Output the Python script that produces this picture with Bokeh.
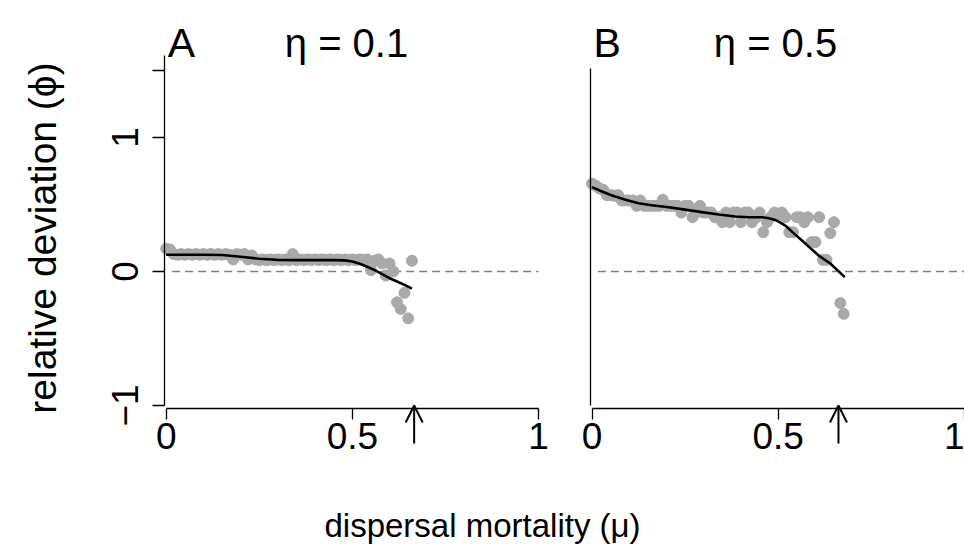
import math
from bokeh.plotting import figure
from bokeh.layouts import row, column
from bokeh.models import Range1d, FixedTicker, Label, Arrow, OpenHead
from bokeh.embed import file_html
from bokeh.resources import INLINE

# ---------------- data ----------------
a_mu = [0.00, 0.01, 0.02, 0.03, 0.04, 0.05, 0.06, 0.07, 0.08, 0.09,
        0.10, 0.11, 0.12, 0.13, 0.14, 0.15, 0.16, 0.17, 0.18, 0.19,
        0.20, 0.21, 0.22, 0.23, 0.24, 0.25, 0.26, 0.27, 0.28, 0.29,
        0.30, 0.31, 0.32, 0.33, 0.34, 0.35, 0.36, 0.37, 0.38, 0.39,
        0.40, 0.41, 0.42, 0.43, 0.44, 0.45, 0.46, 0.47, 0.48, 0.49,
        0.50, 0.51, 0.52, 0.53, 0.54, 0.55, 0.56, 0.57, 0.58, 0.59,
        0.60, 0.61, 0.62, 0.63, 0.64, 0.65, 0.66]
a_phi = [0.17, 0.165, 0.13, 0.125, 0.13, 0.125, 0.13, 0.125, 0.13, 0.125,
         0.13, 0.125, 0.13, 0.125, 0.13, 0.125, 0.13, 0.125, 0.09, 0.13,
         0.125, 0.13, 0.09, 0.12, 0.09, 0.085, 0.09, 0.085, 0.09, 0.085,
         0.09, 0.085, 0.09, 0.085, 0.13, 0.085, 0.09, 0.085, 0.09, 0.085,
         0.09, 0.085, 0.09, 0.085, 0.09, 0.085, 0.09, 0.085, 0.09, 0.085,
         0.09, 0.085, 0.09, 0.085, 0.09, 0.01, 0.08, 0.09, 0.06, -0.03,
         0.06, 0.0, -0.23, -0.28, -0.16, -0.35, 0.08]

a_fit_mu = [0.0, 0.05, 0.10, 0.15, 0.20, 0.25, 0.30, 0.35, 0.40, 0.45,
            0.48, 0.50, 0.52, 0.54, 0.56, 0.58, 0.60, 0.62, 0.64, 0.66]
a_fit_phi = [0.125, 0.125, 0.125, 0.123, 0.11, 0.095, 0.087, 0.085, 0.085, 0.085,
             0.083, 0.075, 0.058, 0.035, 0.01, -0.02, -0.05, -0.075, -0.10, -0.128]

b_mu = [0.00, 0.01, 0.02, 0.03, 0.04, 0.05, 0.06, 0.07, 0.08, 0.09,
        0.10, 0.11, 0.12, 0.13, 0.14, 0.15, 0.16, 0.17, 0.18, 0.19,
        0.20, 0.21, 0.22, 0.23, 0.24, 0.25, 0.26, 0.27, 0.28, 0.29,
        0.30, 0.31, 0.32, 0.33, 0.34, 0.35, 0.36, 0.37, 0.38, 0.39,
        0.40, 0.41, 0.42, 0.43, 0.44, 0.45, 0.46, 0.47, 0.48, 0.49,
        0.50, 0.51, 0.52, 0.53, 0.54, 0.55, 0.56, 0.57, 0.58, 0.59,
        0.60, 0.61, 0.62, 0.63, 0.64, 0.65, 0.667, 0.676]
b_phi = [0.655, 0.64, 0.62, 0.61, 0.57, 0.57, 0.565, 0.57, 0.53, 0.53,
         0.53, 0.53, 0.49, 0.53, 0.49, 0.49, 0.49, 0.49, 0.49, 0.535,
         0.49, 0.49, 0.49, 0.49, 0.44, 0.49, 0.49, 0.405, 0.44, 0.49,
         0.44, 0.44, 0.44, 0.405, 0.405, 0.368, 0.44, 0.368, 0.44, 0.44,
         0.368, 0.44, 0.44, 0.368, 0.40, 0.44, 0.293, 0.368, 0.405, 0.44,
         0.42, 0.44, 0.405, 0.293, 0.293, 0.405, 0.405, 0.368, 0.405, 0.22,
         0.22, 0.405, 0.087, 0.087, 0.286, 0.368, -0.236, -0.316]

b_fit_mu = [0.0, 0.02, 0.054, 0.09, 0.125, 0.16, 0.206, 0.25, 0.295, 0.34,
            0.385, 0.42, 0.457, 0.475, 0.492, 0.505, 0.519, 0.54, 0.564, 0.585,
            0.609, 0.64, 0.679]
b_fit_phi = [0.63, 0.605, 0.567, 0.535, 0.51, 0.495, 0.48, 0.462, 0.443, 0.425,
             0.41, 0.405, 0.405, 0.398, 0.385, 0.367, 0.343, 0.29, 0.231, 0.178,
             0.119, 0.06, -0.042]

arrow_mu = [0.666, 0.662]          # marked threshold on the x axis (A, B)
zero_line_mu = [0.016, 1.0]        # extent of the dashed phi = 0 reference line
zero_line_phi = [0.0, 0.0]
panel_letters = ["A", "B"]
panel_titles = ["η = 0.1", "η = 0.5"]
x_ticks = [0, 0.5, 1]
x_tick_labels = {0: "0", 0.5: "0.5", 1: "1"}
y_ticks = [-1, 0, 1, 1.5]
y_tick_labels = {-1: "−1", 0: "0", 1: "1", 1.5: ""}
y_label = "relative deviation (ϕ)"
x_label = "dispersal mortality (μ)"

FONT = "Liberation Sans"
PT_COLOR = "#a9a9a9"

# ---------------- geometry (pixels -> data) ----------------
PX_X = 372.3      # px per unit of mu
PX_Y = 134.0      # px per unit of phi
ZERO_Y = 271.0    # page y of phi = 0
H = 500           # panel height


def data_y(py):
    return (ZERO_Y - py) / PX_Y


def make_panel(left_px, width, zero_x_px, axis_x_px, mu, phi, fit_mu, fit_phi,
               letter, title, title_center_px, arrow_x, show_y, y_axis_top):
    # frame fills whole canvas; page x of canvas left = left_px
    x0 = (left_px - zero_x_px) / PX_X
    x1 = (left_px + width - zero_x_px) / PX_X

    def data_x(px):
        return (px - zero_x_px) / PX_X

    p = figure(width=width, height=H, output_backend="svg", toolbar_location=None,
               x_range=Range1d(x0, x1), y_range=Range1d(data_y(H), data_y(0)),
               min_border=0)
    p.outline_line_color = None
    p.grid.visible = False
    p.background_fill_color = "white"
    p.border_fill_color = "white"

    # x axis (fixed at the bottom of the plotting region)
    xa = p.xaxis[0]
    xa.fixed_location = data_y(407.7)
    xa.ticker = FixedTicker(ticks=x_ticks)
    xa.major_label_overrides = x_tick_labels
    xa.bounds = (0, 1)
    xa.minor_tick_line_color = None
    xa.major_tick_out = 11
    xa.major_tick_in = 0
    xa.major_label_standoff = 4
    xa.major_label_text_font = FONT
    xa.major_label_text_font_size = "37px"
    xa.major_label_text_color = "black"
    xa.axis_line_width = 1.3
    xa.major_tick_line_width = 1.3

    ya = p.yaxis[0]
    ya.fixed_location = data_x(axis_x_px)
    ya.bounds = (-1, y_axis_top)
    ya.minor_tick_line_color = None
    ya.axis_line_width = 1.3
    if show_y:
        ya.ticker = FixedTicker(ticks=y_ticks)
        ya.major_label_overrides = y_tick_labels
        ya.major_tick_out = 12
        ya.major_tick_in = 0
        ya.major_tick_line_width = 1.3
        ya.major_label_orientation = "vertical"
        ya.major_label_standoff = 14
        ya.major_label_text_font = FONT
        ya.major_label_text_font_size = "37px"
        ya.major_label_text_color = "black"
        p.add_layout(Label(x=data_x(42), y=data_y(237.5), text=y_label,
                           angle=math.pi / 2, text_align="center",
                           text_baseline="alphabetic", text_font=FONT,
                           text_font_size="39px", text_color="black"))
    else:
        ya.ticker = FixedTicker(ticks=[])
        ya.major_tick_out = 0
        ya.major_tick_in = 0
        ya.major_label_text_font_size = "0px"

    p.line(zero_line_mu, zero_line_phi, line_color="#808080",
           line_dash="8 5", line_width=1.3)

    p.scatter(mu, phi, size=11, color=PT_COLOR, line_color=PT_COLOR)
    p.line(fit_mu, fit_phi, line_color="black", line_width=2.6)

    p.add_layout(Arrow(end=OpenHead(size=17, line_width=2, line_color="black"),
                       x_start=arrow_x, y_start=data_y(443), x_end=arrow_x,
                       y_end=data_y(405), line_width=2, line_color="black"))

    p.add_layout(Label(x=data_x(zero_x_px + 1.5), y=data_y(42), text=letter,
                       text_align="left", text_baseline="alphabetic",
                       text_font=FONT, text_font_size="41px", text_color="black"))
    p.add_layout(Label(x=data_x(title_center_px), y=data_y(42), text=title,
                       text_align="center", text_baseline="alphabetic",
                       text_font=FONT, text_font_size="40px", text_color="black"))
    return p


pa = make_panel(0, 560, 165.7, 163.5, a_mu, a_phi, a_fit_mu, a_fit_phi,
                panel_letters[0], panel_titles[0], 346, arrow_mu[0], True, 1.612)
pb = make_panel(560, 404, 591.5, 590.0, b_mu, b_phi, b_fit_mu, b_fit_phi,
                panel_letters[1], panel_titles[1], 775, arrow_mu[1], False, 1.515)

pl = figure(width=964, height=50, output_backend="svg", toolbar_location=None,
            x_range=Range1d(0, 964), y_range=Range1d(0, 50),
            x_axis_type=None, y_axis_type=None, min_border=0)
pl.outline_line_color = None
pl.grid.visible = False
pl.add_layout(Label(x=482, y=25, text=x_label, text_align="center",
                    text_baseline="middle", text_font=FONT,
                    text_font_size="33px", text_color="black"))

layout = column(row(pa, pb, spacing=0), pl, spacing=0)

open("out.html", "w").write(file_html(layout, INLINE))
